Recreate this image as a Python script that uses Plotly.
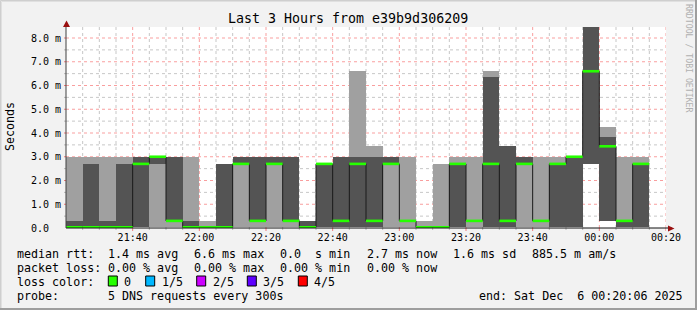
import plotly.graph_objects as go
import pandas as pd

# ---------------- data (ms) ----------------
slot_start = pd.date_range("2025-12-05 21:20", periods=36, freq="5min")

ping_min = [0.03, 0.03, 0.03, 0.03, 0.03, 0.03, 0.03, 0.03, 0.03, 0.03, 0.03, 0.03,
            0.03, 0.03, 0.03, 0.03, 0.03, 0.03, 0.03, 0.03, 0.03, 0.03, 0.03, 0.03,
            0.03, 0.03, 0.03, 0.03, 0.03, 0.03, 0.03, 2.7, 0.3, 0.03, 0.03, None]
ping_lo = [0.03, 0.03, 0.03, 0.03, 0.03, 2.7, 0.3, 0.03, 0.03, 0.03, 2.7, 0.3,
           2.7, 0.3, 0.03, 0.03, 0.03, 0.03, 0.03, 2.7, 0.3, 0.03, 0.03, 0.03,
           0.3, 0.03, 0.03, 2.7, 0.3, 0.03, 0.03, 2.7, 0.3, 0.03, 0.03, None]
median = [0.03, 0.03, 0.03, 0.03, 2.7, 3.0, 0.3, 0.03, 0.03, 0.03, 2.7, 0.3,
          2.7, 0.3, 0.03, 2.7, 0.3, 2.7, 0.3, 2.7, 0.3, 0.03, 0.03, 2.7,
          0.3, 2.7, 0.3, 2.7, 0.3, 2.7, 3.0, 6.6, 3.44, 0.3, 2.7, None]
ping_hi = [0.3, 2.7, 0.3, 2.7, 3.0, 3.0, 3.0, 0.3, 0.03, 2.7, 3.0, 3.0,
           3.0, 3.0, 0.3, 2.7, 3.0, 3.0, 3.0, 3.0, 0.3, 0.03, 0.03, 2.7,
           0.3, 6.34, 3.44, 3.0, 0.3, 2.7, 3.0, 9.5, 3.84, 0.3, 2.7, None]
ping_max = [3.0, 3.0, 3.0, 3.0, 3.0, 3.0, 3.0, 3.0, 0.3, 2.7, 3.0, 3.0,
            3.0, 3.0, 0.3, 2.7, 3.0, 6.62, 3.44, 3.0, 3.0, 0.3, 2.7, 3.0,
            3.0, 6.62, 3.44, 3.0, 3.0, 3.0, 3.0, 10.0, 4.27, 3.0, 3.0, None]

x_ticks = pd.date_range("2025-12-05 21:40", "2025-12-06 00:20", freq="20min")
y_ticks = [0, 1, 2, 3, 4, 5, 6, 7, 8]
y_ticktext = ["0.0\u00a0\u00a0"] + [f"{v:.1f} m" for v in y_ticks[1:]]

loss_labels = ["0", "1/5", "2/5", "3/5", "4/5"]
loss_colors = ["#26ff00", "#00b8ff", "#cc00ff", "#5e00ff", "#ff0000"]

# ---------------- geometry helpers (pixel -> paper) ----------------
W, H = 697, 310
L, R, T, B = 66, 31, 27, 82
PW, PH = W - L - R, H - T - B


def px(x):
    return (x - L) / PW


def py(y):
    return (H - B - y) / PH


STEP = pd.Timedelta(minutes=5)
mono = "DejaVu Sans Mono"

fig = go.Figure()

valid = [i for i in range(len(slot_start)) if median[i] is not None]
xs = [slot_start[i] for i in valid]

# light smoke: min..max
fig.add_trace(go.Bar(
    x=xs, base=[ping_min[i] for i in valid],
    y=[ping_max[i] - ping_min[i] for i in valid],
    width=STEP.total_seconds() * 1000, offset=0,
    marker=dict(color="#a0a0a0", line=dict(width=0)), hoverinfo="skip"))
# dark smoke: 2nd..4th
fig.add_trace(go.Bar(
    x=xs, base=[ping_lo[i] for i in valid],
    y=[ping_hi[i] - ping_lo[i] for i in valid],
    width=STEP.total_seconds() * 1000, offset=0,
    marker=dict(color="#545454", line=dict(width=0)), hoverinfo="skip"))

# black median step line
step_x = xs + [xs[-1] + STEP]
step_y = [median[i] for i in valid] + [median[valid[-1]]]
fig.add_trace(go.Scatter(x=step_x, y=step_y, mode="lines", line_shape="hv",
                         line=dict(color="#1a1a1a", width=1), hoverinfo="skip"))

# green median bands
gx, gy = [], []
for i in valid:
    gx += [slot_start[i], slot_start[i] + STEP, None]
    gy += [median[i], median[i], None]
fig.add_trace(go.Scatter(x=gx, y=gy, mode="lines",
                         line=dict(color="#26ff00", width=2.6), hoverinfo="skip"))

shapes = []
# grid (below the smoke)
t0, t1 = slot_start[0], slot_start[-1] + STEP
t = t0 + STEP
while t <= t1:
    major = (t.minute % 20 == 0)
    shapes.append(dict(type="line", xref="x", yref="paper", x0=t, x1=t,
                       y0=0, y1=1, layer="below",
                       line=dict(color="rgba(240,0,0,0.38)" if major else "rgba(143,143,143,0.5)",
                                 width=1, dash="dot")))
    shapes.append(dict(type="line", xref="x", yref="paper", x0=t, x1=t,
                       y0=-3 / PH if major else -2 / PH, y1=0, layer="above",
                       line=dict(color="rgba(240,0,0,0.5)" if major else "rgba(143,143,143,0.6)",
                                 width=1)))
    t += STEP
for k in range(1, 17):
    v = k * 0.5
    major = (k % 2 == 0)
    shapes.append(dict(type="line", xref="paper", yref="y", x0=0, x1=1, y0=v, y1=v,
                       layer="below",
                       line=dict(color="rgba(240,0,0,0.38)" if major else "rgba(143,143,143,0.5)",
                                 width=1, dash="dot")))
    shapes.append(dict(type="line", xref="paper", yref="y", x0=-2 / PW, x1=0, y0=v, y1=v,
                       layer="above",
                       line=dict(color="rgba(240,0,0,0.5)" if major else "rgba(143,143,143,0.6)",
                                 width=1)))

# axes lines and arrows
shapes.append(dict(type="line", xref="paper", yref="paper", x0=0, x1=px(672), y0=0, y1=0,
                   layer="above", line=dict(color="#101010", width=1)))
shapes.append(dict(type="line", xref="paper", yref="paper", x0=0, x1=0, y0=0, y1=py(23),
                   layer="above", line=dict(color="#404040", width=1)))
shapes.append(dict(type="path", xref="paper", yref="paper", layer="above",
                   path=f"M {px(668)} {py(225.5)} L {px(674.5)} {py(228.5)} L {px(668)} {py(231.5)} Z",
                   fillcolor="#9a1010", line=dict(width=0)))
shapes.append(dict(type="path", xref="paper", yref="paper", layer="above",
                   path=f"M {px(63)} {py(27)} L {px(66.5)} {py(20.5)} L {px(70)} {py(27)} Z",
                   fillcolor="#9a1010", line=dict(width=0)))

# frame
shapes.append(dict(type="path", xref="paper", yref="paper", layer="above",
                   path=f"M {px(0.5)} {py(309.5)} L {px(0.5)} {py(0.5)} L {px(696.5)} {py(0.5)}",
                   line=dict(color="#cfcfcf", width=1)))
shapes.append(dict(type="path", xref="paper", yref="paper", layer="above",
                   path=f"M {px(1.5)} {py(308.5)} L {px(1.5)} {py(1.5)} L {px(695.5)} {py(1.5)}",
                   line=dict(color="#e0e0e0", width=1)))
shapes.append(dict(type="path", xref="paper", yref="paper", layer="above",
                   path=f"M {px(0)} {py(309)} L {px(696)} {py(309)} L {px(696)} {py(0)}",
                   line=dict(color="#9e9e9e", width=2)))

# legend swatches
box_x = [108.3, 145.7, 196.7, 247.3, 298.3]
for bx, c in zip(box_x, loss_colors):
    shapes.append(dict(type="rect", xref="paper", yref="paper", layer="above",
                       x0=px(bx), x1=px(bx + 9), y0=py(286), y1=py(276),
                       fillcolor=c, line=dict(color="#000000", width=1)))

ann = []


def text(x, y, s, size=11.67, anchor="left", color="#000000", angle=0):
    ann.append(dict(xref="paper", yref="paper", x=px(x), y=py(y), text=s.replace(" ", "\u00a0"),
                    showarrow=False, xanchor=anchor, yanchor="middle", borderpad=0,
                    textangle=angle, font=dict(family=mono, size=size, color=color)))


text(348, 19, "Last 3 Hours from e39b9d306209", size=13.3, anchor="center")
text(10, 127, "Seconds", anchor="center", angle=-90)
text(689, 58, "RRDTOOL / TOBI OETIKER", size=8.2, anchor="center", color="#b0b0b0", angle=90)

line1 = [("median rtt:", 16), ("1.4 ms avg", 107.3), ("6.6 ms max", 193.3),
         ("0.0  s min", 279.3), ("2.7 ms now", 366), ("1.6 ms sd", 451.7),
         ("885.5 m am/s", 531)]
line2 = [("packet loss:", 16), ("0.00 % avg", 107.3), ("0.00 % max", 193.3),
         ("0.00 % min", 279.3), ("0.00 % now", 366)]
for s, x in line1:
    text(x, 254, s)
for s, x in line2:
    text(x, 268, s)
text(16, 281.5, "loss color:")
for bx, lab in zip(box_x, loss_labels):
    text(bx + 15, 281.5, lab)
text(16, 295.5, "probe:")
text(107.3, 295.5, "5 DNS requests every 300s")
text(478.3, 295.5, "end: Sat Dec  6 00:20:06 2025")

fig.update_layout(
    width=W, height=H, margin=dict(l=L, r=R, t=T, b=B, pad=0),
    paper_bgcolor="#f2f2f2", plot_bgcolor="#ffffff",
    barmode="overlay", bargap=0, showlegend=False,
    font=dict(family=mono, color="#000000"),
    shapes=shapes, annotations=ann,
    xaxis=dict(type="date", range=[t0, t1], showgrid=False, zeroline=False,
               showline=False, ticks="", tickvals=list(x_ticks),
               ticktext=[d.strftime("%H:%M") for d in x_ticks],
               tickfont=dict(family=mono, size=10, color="#000000"),
               ticklabelstandoff=2, fixedrange=True),
    yaxis=dict(range=[0, PH / 23.75], showgrid=False, zeroline=False, showline=False,
               ticks="", tickvals=y_ticks, ticktext=y_ticktext,
               tickfont=dict(family=mono, size=10, color="#000000"),
               ticklabelstandoff=4, fixedrange=True),
)

fig.write_html("out.html")
